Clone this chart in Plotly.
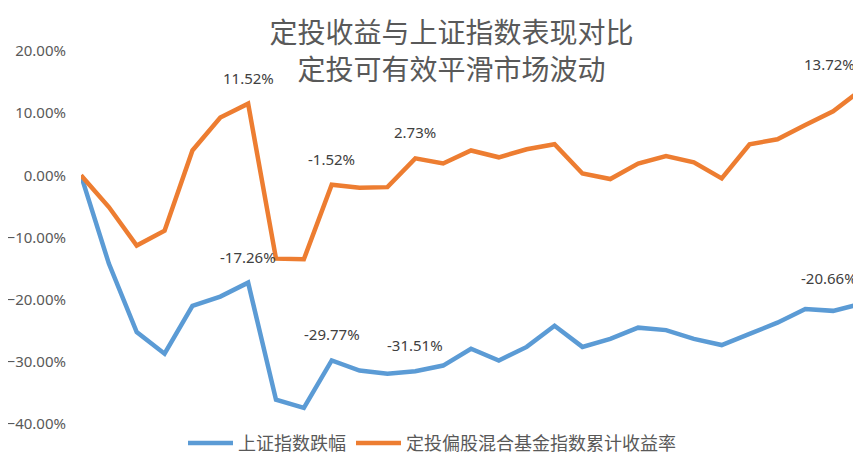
import plotly.graph_objects as go

# monthly points, index 0..28
months = list(range(29))
sh_index = [0.0, -14.2, -25.2, -28.7, -21.0, -19.5, -17.26, -36.1, -37.4, -29.77,
            -31.4, -31.9, -31.51, -30.6, -27.9, -29.8, -27.6, -24.2, -27.6, -26.3,
            -24.5, -24.9, -26.3, -27.3, -25.5, -23.7, -21.5, -21.8, -20.66]
fund_sip = [0.0, -5.1, -11.3, -8.9, 4.0, 9.3, 11.52, -13.4, -13.5, -1.52,
            -2.0, -1.9, 2.73, 1.9, 4.0, 2.9, 4.2, 5.0, 0.3, -0.6,
            1.9, 3.1, 2.1, -0.5, 5.0, 5.8, 8.1, 10.3, 13.72]
label_idx = [6, 9, 12, 28]
y_ticks = [20, 10, 0, -10, -20, -30, -40]

sh_index = [v / 100 for v in sh_index]
fund_sip = [v / 100 for v in fund_sip]

cjk = "Noto Sans CJK SC"
num_font = "Noto Sans"

fig = go.Figure()
fig.add_trace(go.Scatter(x=months, y=sh_index, mode="lines", name="上证指数跌幅",
                         line=dict(color="#5B9BD5", width=4.5)))
fig.add_trace(go.Scatter(x=months, y=fund_sip, mode="lines", name="定投偏股混合基金指数累计收益率",
                         line=dict(color="#ED7D31", width=4.5)))

# data labels above selected points
for series in (sh_index, fund_sip):
    for i in label_idx:
        last = i == months[-1]
        fig.add_annotation(x=months[i], y=series[i], text=f"{series[i]*100:.2f}%",
                           showarrow=False, yshift=26, xshift=-32 if last else 0,
                           font=dict(family=num_font, size=15, color="#404040"))

# page body adds 8px offset, so figure is 8px smaller and margins shifted
fig.update_layout(
    width=853, height=454,
    margin=dict(l=73, r=0, t=43, b=38),
    paper_bgcolor="white", plot_bgcolor="white",
    title=dict(text="定投收益与上证指数表现对比<br>定投可有效平滑市场波动",
               x=0.52, xanchor="center", y=0.922, yanchor="middle",
               font=dict(family=cjk, size=28, color="#595959")),
    showlegend=True,
    legend=dict(orientation="h", x=0.45, xanchor="center", y=-0.052, yanchor="middle",
                font=dict(family=cjk, size=18, color="#595959"), itemwidth=45),
)
fig.update_xaxes(range=[0, 28], showgrid=False, zeroline=False, showticklabels=False,
                 showline=False)
fig.update_yaxes(range=[-0.40, 0.20], tickvals=[v / 100 for v in y_ticks],
                 tickformat=".2%", showgrid=False, zeroline=False, showline=False,
                 automargin=False, ticklabelstandoff=14,
                 tickfont=dict(family=num_font, size=15, color="#595959"))

fig.write_html("out.html")
